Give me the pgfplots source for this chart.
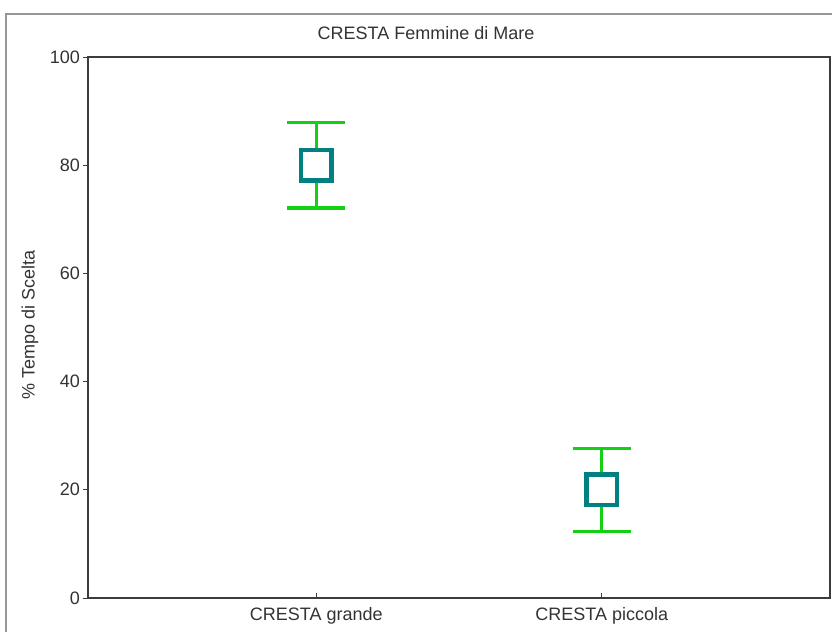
\documentclass[border=0pt]{standalone}
\usepackage{fontspec}
\setmainfont{Liberation Sans}
\usepackage{pgfplots}
\pgfplotsset{compat=1.18}
\definecolor{barsgreen}{RGB}{20,208,20}
\definecolor{markteal}{RGB}{0,128,128}
\definecolor{frameline}{RGB}{150,150,150}
\definecolor{axisdark}{RGB}{60,60,60}
\begin{document}
\begin{tikzpicture}[x=0.75pt,y=0.75pt]
\path[use as bounding box] (0,0) rectangle (832,632);
% outer frame (top and left edges)
\draw[frameline, line width=1.2pt] (6,0) -- (6,618) -- (832,618);
\begin{axis}[
  at={(66pt,25.5pt)}, anchor=south west,
  scale only axis, width=556.5pt, height=405.75pt,
  xmin=0.2, xmax=2.8, ymin=0, ymax=100,
  xtick={1,2}, xticklabels={CRESTA grande, CRESTA piccola},
  ytick={0,20,...,100},
  xtick pos=left, ytick pos=left,
  tick align=inside,
  major tick length=3.75pt,
  y tick style={xshift=-3.75pt},
  tick style={axisdark, line width=0.6pt},
  axis line style={axisdark, line width=1.3pt},
  /pgf/number format/assume math mode=true,
  ticklabel style={font=\fontsize{13.5}{15}\selectfont, text=black!80},
  xticklabel style={yshift=-3.5pt},
  yticklabel style={xshift=-2.5pt},
  clip=false,
]
% error bars (mean +/- error)
\addplot[draw=none, mark=none,
  error bars/.cd, y dir=both, y explicit,
  error bar style={barsgreen, line width=2.2pt},
  error mark options={barsgreen, rotate=90, mark size=21.8pt, line width=2.4pt}]
  coordinates {(1,80) +- (0,7.9) (2,20) +- (0,7.7)};
% means
\addplot[only marks, mark=square*,
  mark options={draw=markteal, fill=white, line width=3.4pt},
  mark size=11.4pt]
  coordinates {(1,80) (2,20)};
\end{axis}
\node[font=\fontsize{13.5}{15}\selectfont, text=black!80] at (426,599) {CRESTA Femmine di Mare};
\node[font=\fontsize{13.5}{15}\selectfont, text=black!80, rotate=90] at (30,307) {\% Tempo di Scelta};
\end{tikzpicture}
\end{document}
